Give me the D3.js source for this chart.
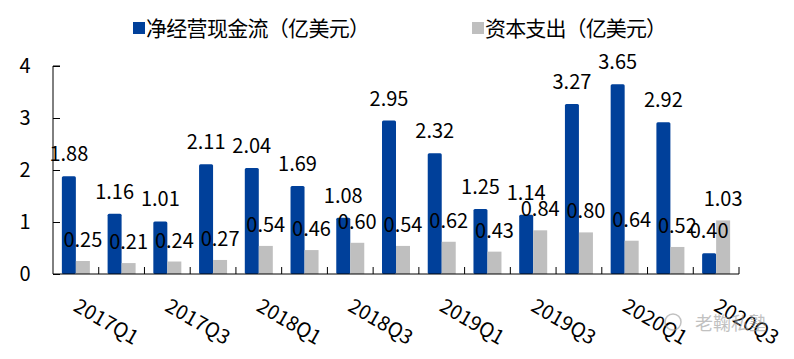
<!DOCTYPE html>
<html>
<head>
<meta charset="utf-8">
<script src="https://cdn.jsdelivr.net/npm/d3@7"></script>
<style>
  body { margin: 0; background: #fff; }
  svg text { font-family: "Noto Sans CJK SC", "Noto Sans", sans-serif; fill: #000; }
</style>
</head>
<body>
<svg width="794" height="359"></svg>
<script>
// quarters, only every other one gets a label
var quarters = ["2017Q1","2017Q2","2017Q3","2017Q4","2018Q1","2018Q2","2018Q3","2018Q4",
                "2019Q1","2019Q2","2019Q3","2019Q4","2020Q1","2020Q2","2020Q3"];
var netOpCash = [1.88, 1.16, 1.01, 2.11, 2.04, 1.69, 1.08, 2.95, 2.32, 1.25, 1.14, 3.27, 3.65, 2.92, 0.40];
var capex     = [0.25, 0.21, 0.24, 0.27, 0.54, 0.46, 0.60, 0.54, 0.62, 0.43, 0.84, 0.80, 0.64, 0.52, 1.03];
var yTicks = [0, 1, 2, 3, 4];
var seriesNames = ["净经营现金流（亿美元）", "资本支出（亿美元）"];

var svg = d3.select("svg"),
    blue = "#00409a",
    gray = "#bfbfbf",
    barW = 14;

var x = d3.scaleBand()
    .domain(quarters)
    .range([53, 739]);

var y = d3.scaleLinear()
    .domain([0, 4])
    .range([274, 66]);

// y axis, ticks pointing inward
var yAxis = svg.append("g")
    .attr("transform", "translate(53,0)")
    .call(d3.axisRight(y).tickValues(yTicks).tickSize(7).tickFormat(""));
yAxis.select(".domain").attr("d", "M7," + y(4) + "H0V" + y(0)).attr("stroke", "#000");
yAxis.selectAll(".tick line").attr("stroke", "#000");

svg.append("g").selectAll("text")
    .data(yTicks)
  .enter().append("text")
    .attr("x", 25)
    .attr("y", function(d) { return y(d); })
    .attr("dy", "0.36em")
    .attr("text-anchor", "middle")
    .style("font-size", "20px")
    .text(function(d) { return d; });

// bars
var groups = svg.append("g").selectAll("g")
    .data(quarters)
  .enter().append("g")
    .attr("transform", function(d) { return "translate(" + (x(d) + x.bandwidth() / 2) + ",0)"; });

groups.append("rect")
    .attr("x", -barW)
    .attr("width", barW)
    .attr("y", function(d, i) { return y(netOpCash[i]); })
    .attr("height", function(d, i) { return y(0) - y(netOpCash[i]); })
    .attr("rx", 1.5)
    .attr("fill", blue);

groups.append("rect")
    .attr("x", 0)
    .attr("width", barW)
    .attr("y", function(d, i) { return y(capex[i]); })
    .attr("height", function(d, i) { return y(0) - y(capex[i]); })
    .attr("fill", gray);

// x axis with inside ticks on the category borders
svg.append("line")
    .attr("x1", 53).attr("x2", 739)
    .attr("y1", y(0)).attr("y2", y(0))
    .attr("stroke", "#000");

svg.append("g").selectAll("line")
    .data(quarters)
  .enter().append("line")
    .attr("x1", function(d) { return x(d) + x.bandwidth(); })
    .attr("x2", function(d) { return x(d) + x.bandwidth(); })
    .attr("y1", y(0))
    .attr("y2", y(0) - 7)
    .attr("stroke", "#000");

// value labels
groups.append("text")
    .attr("x", -barW / 2)
    .attr("y", function(d, i) { return y(netOpCash[i]) - 15; })
    .attr("text-anchor", "middle")
    .style("font-size", "20px")
    .text(function(d, i) { return netOpCash[i].toFixed(2); });

groups.append("text")
    .attr("x", barW / 2)
    .attr("y", function(d, i) { return y(capex[i]) - 14; })
    .attr("text-anchor", "middle")
    .style("font-size", "20px")
    .text(function(d, i) { return capex[i].toFixed(2); });

// rotated category labels
svg.append("g").selectAll("text")
    .data(quarters.filter(function(d, i) { return i % 2 === 0; }))
  .enter().append("text")
    .attr("transform", function(d) {
      return "translate(" + (x(d) + x.bandwidth() / 2) + ",304) rotate(30)";
    })
    .attr("dy", "0.35em")
    .attr("text-anchor", "start")
    .style("font-size", "20px")
    .text(function(d) { return d; });

// legend
var legend = svg.append("g").selectAll("g")
    .data(seriesNames)
  .enter().append("g")
    .attr("transform", function(d, i) { return "translate(" + (i === 0 ? 133 : 472) + ",0)"; });

legend.append("rect")
    .attr("y", 22)
    .attr("width", 12)
    .attr("height", 12)
    .attr("fill", function(d, i) { return i === 0 ? blue : gray; });

legend.append("text")
    .attr("x", 13)
    .attr("y", 28)
    .attr("dy", "0.36em")
    .attr("textLength", function(d, i) { return i === 0 ? 224 : 182; })
    .attr("lengthAdjust", "spacing")
    .style("font-size", "21px")
    .text(function(d) { return d; });

// watermark
var mark = svg.append("g").style("opacity", 0.6);
mark.append("circle")
    .attr("cx", 673).attr("cy", 322).attr("r", 8)
    .attr("fill", "none").attr("stroke", "#999").attr("stroke-width", 1.5);
mark.append("text")
    .attr("x", 695)
    .attr("y", 324)
    .attr("dy", "0.36em")
    .style("font-size", "18px")
    .style("fill", "#999")
    .text("老鞠私塾");
</script>
</body>
</html>
